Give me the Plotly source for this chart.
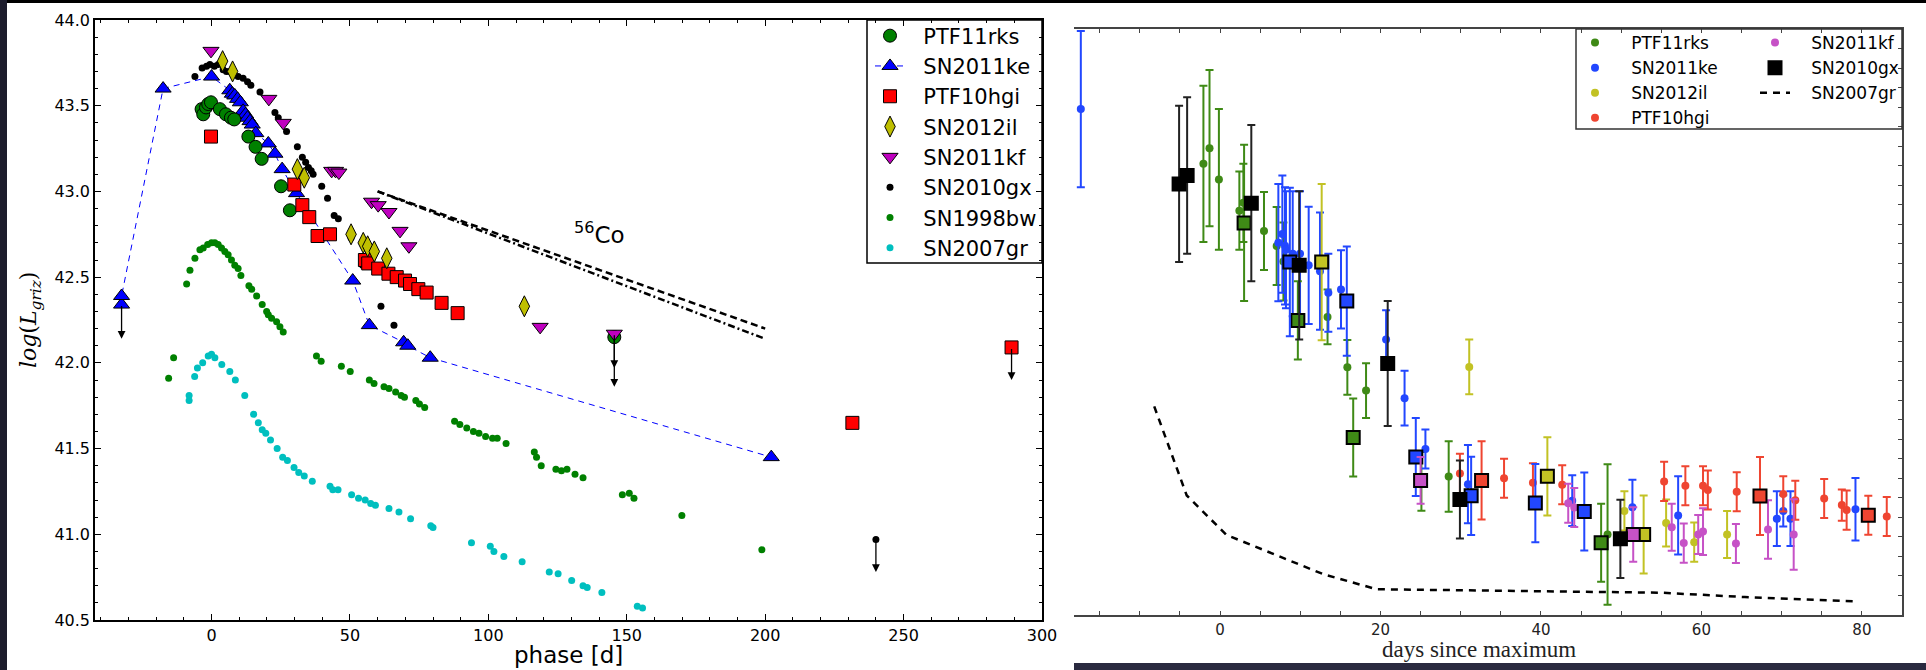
import plotly.graph_objects as go

W, H = 1926, 670

# ---------------- LEFT PANEL DATA (phase [d], log L) ----------------
ptf11rks_x = [-3.6, -3.0, -2.0, -1.2, -0.2, 3.0, 5.2, 7.0, 8.2, 13.3, 15.9, 18.1, 25.1, 28.3, 145.5]
ptf11rks_y = [43.48, 43.45, 43.49, 43.51, 43.52, 43.48, 43.45, 43.43, 43.42, 43.32, 43.26, 43.19, 43.03, 42.89, 42.15]

sn2011ke_x = [-32.5, -32.5, -17.5, 0.0, 6.6, 7.5, 8.4, 9.4, 10.4, 11.4, 12.3, 13.0, 13.9, 14.7, 16.0,
              20.5, 22.9, 25.5, 30.7, 51.0, 57.0, 69.4, 70.9, 79.0, 202.2]
sn2011ke_y = [42.34, 42.39, 43.60, 43.67, 43.59, 43.57, 43.56, 43.54, 43.52, 43.47, 43.45, 43.43, 43.41, 43.39, 43.34,
              43.28, 43.22, 43.13, 42.99, 42.48, 42.22, 42.12, 42.10, 42.03, 41.45]

ptf10hgi_x = [-0.2, 29.9, 32.8, 35.3, 38.3, 42.8, 55.4, 56.6, 60.2, 63.9, 66.9, 69.9, 71.7, 74.7, 77.7, 83.1, 88.9, 231.5, 289.0]
ptf10hgi_y = [43.32, 43.04, 42.92, 42.85, 42.74, 42.75, 42.60, 42.58, 42.55, 42.52, 42.50, 42.48, 42.46, 42.43, 42.41, 42.35, 42.29, 41.65, 42.09]

sn2012il_x = [4.0, 7.6, 31.0, 33.5, 50.4, 54.8, 56.4, 58.8, 63.3, 113.0]
sn2012il_y = [43.76, 43.70, 43.13, 43.08, 42.75, 42.70, 42.68, 42.65, 42.61, 42.33]

sn2011kf_x = [-0.2, 20.7, 25.9, 43.4, 44.8, 46.0, 57.8, 60.2, 64.1, 68.1, 71.3, 118.7, 145.5]
sn2011kf_y = [43.82, 43.54, 43.40, 43.12, 43.12, 43.11, 42.94, 42.92, 42.88, 42.77, 42.68, 42.21, 42.17]

sn2010gx_x = [-6.0, -3.4, -1.8, -0.6, 1.0, 2.4, 4.2, 5.4, 6.6, 7.8, 9.6, 11.4, 13.0, 14.2, 17.5, 22.9, 24.1, 27.1,
              31.0, 32.8, 34.0, 35.0, 36.0, 36.7, 39.8, 41.9, 44.3, 45.8, 50.4, 54.6, 61.2, 65.9, 240.0]
sn2010gx_y = [43.67, 43.72, 43.73, 43.74, 43.73, 43.74, 43.71, 43.70, 43.70, 43.69, 43.67, 43.66, 43.64, 43.62, 43.58, 43.46, 43.43, 43.35,
              43.26, 43.20, 43.17, 43.14, 43.12, 43.10, 43.03, 42.96, 42.86, 42.84, 42.73, 42.57, 42.33, 42.22, 40.97]

sn1998bw_x = [-15.5, -13.7, -9.0, -7.8, -6.0, -4.2, -3.0, -1.4, 0.0, 1.2, 2.4, 3.6, 4.8, 6.0, 7.2, 8.4, 9.6, 10.6,
              13.5, 14.5, 16.3, 18.3, 19.9, 20.5, 21.7, 23.5, 24.7, 25.9,
              37.9, 39.6, 46.9, 50.1, 57.0, 58.7, 62.3, 64.1, 66.5, 68.5, 69.7, 73.8, 75.1, 77.0,
              87.8, 89.7, 92.2, 94.6, 96.6, 99.0, 101.5, 103.2, 106.4, 116.6, 117.4, 119.1, 124.4, 126.4, 128.4,
              131.3, 134.2, 148.4, 150.9, 152.6, 169.9, 198.8]
sn1998bw_y = [41.91, 42.03, 42.46, 42.54, 42.61, 42.66, 42.67, 42.69, 42.70, 42.70, 42.69, 42.67, 42.65, 42.63, 42.60, 42.57, 42.55, 42.51,
              42.45, 42.43, 42.39, 42.34, 42.30, 42.28, 42.26, 42.24, 42.21, 42.18,
              42.04, 42.01, 41.98, 41.95, 41.90, 41.88, 41.86, 41.85, 41.83, 41.81, 41.80, 41.78, 41.76, 41.74,
              41.66, 41.64, 41.62, 41.60, 41.59, 41.57, 41.56, 41.56, 41.53, 41.48, 41.45, 41.40, 41.38, 41.37, 41.38,
              41.35, 41.33, 41.23, 41.24, 41.21, 41.11, 40.91]

sn2007gr_x = [-8.1, -8.1, -6.1, -5.1, -3.2, -1.2, 0.0, 1.2, 3.7, 6.6, 8.6, 12.0, 15.2, 16.9, 18.3, 19.6, 21.3, 23.7,
              25.7, 27.4, 29.8, 31.5, 33.5, 36.4, 42.8, 43.8, 45.7, 50.6, 53.1, 55.5, 57.5, 59.2, 64.1, 67.7,
              71.9, 79.2, 80.0, 93.9, 100.7, 102.0, 105.6, 112.2, 122.0, 125.2, 130.1, 134.2, 135.7, 141.0, 153.8, 155.7]
sn2007gr_y = [41.78, 41.81, 41.92, 41.97, 42.00, 42.04, 42.05, 42.03, 41.99, 41.95, 41.90, 41.81, 41.70, 41.65, 41.61, 41.59, 41.55, 41.50,
              41.45, 41.43, 41.39, 41.36, 41.34, 41.31, 41.28, 41.26, 41.26, 41.23, 41.21, 41.20, 41.18, 41.17, 41.15, 41.13,
              41.09, 41.05, 41.04, 40.95, 40.93, 40.90, 40.87, 40.84, 40.78, 40.77, 40.73, 40.70, 40.69, 40.66, 40.58, 40.57]

# upper limits: x, start (marker) and arrow tip
limit_x = [-32.5, 145.5, 145.5, 240.0, 289.0]
limit_from = [42.34, 42.17, 42.15, 40.97, 42.09]
limit_to = [42.14, 41.97, 41.86, 40.78, 41.90]

# 56Co decay slopes
co_x = [60.0, 200.0]
co_dash_y = [43.00, 42.20]
co_dashdot_y = [43.00, 42.14]

# ---------------- RIGHT PANEL DATA (days since maximum) ----------------
r11rks_x = [-2.07, -1.31, -0.14, 2.41, 2.91, 5.48, 7.06, 7.9, 13.4, 15.87, 18.2, 25.1, 28.5, 48.3]
r11rks_y = [2.31, 2.39, 2.23, 2.07, 2.11, 1.966, 1.889, 1.81, 1.526, 1.268, 1.149, 0.684, 0.709, 0.412]
r11rks_e = [0.40, 0.40, 0.36, 0.20, 0.20, 0.20, 0.20, 0.20, 0.14, 0.14, 0.14, 0.15, 0.18, 0.36]
r11rks_bx = [3.0, 9.7, 16.6, 47.5]
r11rks_by = [2.007, 1.508, 0.909, 0.37]
r11rks_be = [0.40, 0.20, 0.20, 0.20]

r11ke_x = [-17.35, 7.27, 7.77, 8.1, 8.22, 9.06, 9.97, 11.05, 12.46, 13.5, 15.08, 20.7, 23.0, 25.6, 30.9,
           43.9, 51.4, 57.1, 69.4, 70.2, 71.1, 79.2]
r11ke_y = [2.59, 1.906, 1.95, 1.89, 1.87, 1.85, 1.85, 1.79, 1.76, 1.65, 1.667, 1.41, 1.11, 0.85, 0.67,
           0.585, 0.552, 0.51, 0.493, 0.533, 0.493, 0.541]
r11ke_e = [0.40, 0.30, 0.30, 0.30, 0.30, 0.32, 0.32, 0.30, 0.30, 0.20, 0.20, 0.15, 0.14, 0.10, 0.20,
           0.13, 0.14, 0.20, 0.14, 0.08, 0.14, 0.16]
r11ke_bx = [8.7, 15.8, 24.4, 31.3, 39.3, 45.4]
r11ke_by = [1.807, 1.607, 0.809, 0.610, 0.573, 0.530]
r11ke_be = [0.38, 0.28, 0.20, 0.20, 0.20, 0.20]

r12il_x = [31.06, 50.4, 55.6, 59.1, 63.2]
r12il_y = [1.27, 0.533, 0.471, 0.373, 0.412]
r12il_e = [0.14, 0.10, 0.12, 0.10, 0.12]
r12il_bx = [12.67, 40.8, 52.8]
r12il_by = [1.807, 0.71, 0.412]
r12il_be = [0.40, 0.20, 0.20]

r10hgi_x = [29.9, 35.4, 39.0, 42.65, 55.35, 58.0, 60.2, 60.8, 64.4, 70.2, 71.7, 75.3, 77.5, 78.1, 83.1]
r10hgi_y = [0.725, 0.70, 0.677, 0.667, 0.684, 0.662, 0.662, 0.64, 0.631, 0.62, 0.587, 0.596, 0.563, 0.537, 0.504]
r10hgi_e = [0.10, 0.10, 0.10, 0.10, 0.10, 0.10, 0.10, 0.10, 0.10, 0.09, 0.10, 0.10, 0.08, 0.10, 0.10]
r10hgi_bx = [32.6, 67.3, 80.8]
r10hgi_by = [0.689, 0.609, 0.511]
r10hgi_be = [0.20, 0.20, 0.10]

r11kf_x = [43.4, 44.15, 56.3, 57.8, 59.6, 60.2, 64.3, 68.3, 71.5]
r11kf_y = [0.572, 0.55, 0.449, 0.368, 0.412, 0.427, 0.366, 0.438, 0.412]
r11kf_e = [0.10, 0.10, 0.12, 0.10, 0.10, 0.12, 0.10, 0.15, 0.18]
r11kf_bx = [25.0, 51.5]
r11kf_by = [0.689, 0.412]
r11kf_be = [0.12, 0.14]

r10gx_bx = [-5.1, -4.1, 3.9, 9.87, 20.9, 29.9, 49.9]
r10gx_by = [2.207, 2.25, 2.108, 1.79, 1.288, 0.591, 0.39]
r10gx_be = [0.40, 0.40, 0.40, 0.38, 0.32, 0.20, 0.20]

r07gr_x = [-8.2, -4.15, 0.8, 12.8, 19.5, 55.0, 65.4, 79.2]
r07gr_y = [1.068, 0.612, 0.41, 0.21, 0.132, 0.114, 0.092, 0.07]

# ---------------- FIGURE ----------------
fig = go.Figure()
FONT = "DejaVu Sans"
PADL = "\u00a0\u00a0"        # extra gap between legend symbol and text (left legend)
PADR = "\u00a0\u00a0\u00a0"  # same for right legends


def mk(color, symbol, size, edge=True):
    d = dict(color=color, symbol=symbol, size=size)
    d["line"] = dict(color="black", width=1) if edge else dict(width=0)
    return d


# left panel traces (legend 1)
fig.add_trace(go.Scatter(x=sn1998bw_x, y=sn1998bw_y, mode="markers", name=PADL + "SN1998bw",
                         marker=mk("#008000", "circle", 7, False), xaxis="x", yaxis="y", legendrank=7))
fig.add_trace(go.Scatter(x=sn2007gr_x, y=sn2007gr_y, mode="markers", name=PADL + "SN2007gr",
                         marker=mk("#00bfbf", "circle", 7, False), xaxis="x", yaxis="y", legendrank=8))
fig.add_trace(go.Scatter(x=co_x, y=co_dash_y, mode="lines", showlegend=False,
                         line=dict(color="black", width=2.5, dash="7px,4px"), xaxis="x", yaxis="y"))
fig.add_trace(go.Scatter(x=co_x, y=co_dashdot_y, mode="lines", showlegend=False,
                         line=dict(color="black", width=2.5, dash="7px,3px,2px,3px"), xaxis="x", yaxis="y"))
fig.add_trace(go.Scatter(x=sn2010gx_x, y=sn2010gx_y, mode="markers", name=PADL + "SN2010gx",
                         marker=mk("black", "circle", 7, False), xaxis="x", yaxis="y", legendrank=6))
fig.add_trace(go.Scatter(x=sn2011ke_x, y=sn2011ke_y, mode="lines+markers", name=PADL + "SN2011ke",
                         line=dict(color="#0000ff", width=1, dash="6px,5px"),
                         marker=mk("#0000ff", "triangle-up", 14), xaxis="x", yaxis="y", legendrank=2))
fig.add_trace(go.Scatter(x=ptf11rks_x, y=ptf11rks_y, mode="markers", name=PADL + "PTF11rks",
                         marker=mk("#008000", "circle", 13), xaxis="x", yaxis="y", legendrank=1))
fig.add_trace(go.Scatter(x=ptf10hgi_x, y=ptf10hgi_y, mode="markers", name=PADL + "PTF10hgi",
                         marker=mk("#ff0000", "square", 13), xaxis="x", yaxis="y", legendrank=3))
fig.add_trace(go.Scatter(x=sn2012il_x, y=sn2012il_y, mode="markers", name=PADL + "SN2012il",
                         marker=mk("#bfbf00", "diamond-tall", 15), xaxis="x", yaxis="y", legendrank=4))
fig.add_trace(go.Scatter(x=sn2011kf_x, y=sn2011kf_y, mode="markers", name=PADL + "SN2011kf",
                         marker=mk("#bf00bf", "triangle-down", 14), xaxis="x", yaxis="y", legendrank=5))

# right panel traces
G, B, Y, R, M = "#3f8a16", "#2247ff", "#c2c224", "#ef4531", "#c652c6"


def err(arr, color):
    return dict(type="data", array=arr, visible=True, color=color, thickness=2, width=4)


fig.add_trace(go.Scatter(x=r11rks_x, y=r11rks_y, mode="markers", name=PADR + "PTF11rks", legend="legend2",
                         marker=dict(color=G, size=8), error_y=err(r11rks_e, G), xaxis="x2", yaxis="y2",
                         legendrank=1))
fig.add_trace(go.Scatter(x=r11ke_x, y=r11ke_y, mode="markers", name=PADR + "SN2011ke", legend="legend2",
                         marker=dict(color=B, size=8), error_y=err(r11ke_e, B), xaxis="x2", yaxis="y2",
                         legendrank=2))
fig.add_trace(go.Scatter(x=r12il_x, y=r12il_y, mode="markers", name=PADR + "SN2012il", legend="legend2",
                         marker=dict(color=Y, size=8), error_y=err(r12il_e, Y), xaxis="x2", yaxis="y2",
                         legendrank=3))
fig.add_trace(go.Scatter(x=r10hgi_x, y=r10hgi_y, mode="markers", name=PADR + "PTF10hgi", legend="legend2",
                         marker=dict(color=R, size=8), error_y=err(r10hgi_e, R), xaxis="x2", yaxis="y2",
                         legendrank=4))
fig.add_trace(go.Scatter(x=r11kf_x, y=r11kf_y, mode="markers", name=PADR + "SN2011kf", legend="legend3",
                         marker=dict(color=M, size=8), error_y=err(r11kf_e, M), xaxis="x2", yaxis="y2",
                         legendrank=1))
fig.add_trace(go.Scatter(x=r07gr_x, y=r07gr_y, mode="lines", name=PADR + "SN2007gr", legend="legend3",
                         line=dict(color="black", width=2.5, dash="7px,6px"), xaxis="x2", yaxis="y2",
                         legendrank=3))

sq = lambda c: dict(color=c, symbol="square", size=13, line=dict(color="black", width=2))
for bx, by, be, c in [(r11rks_bx, r11rks_by, r11rks_be, G), (r11ke_bx, r11ke_by, r11ke_be, B),
                      (r12il_bx, r12il_by, r12il_be, Y), (r10hgi_bx, r10hgi_by, r10hgi_be, R),
                      (r11kf_bx, r11kf_by, r11kf_be, M)]:
    fig.add_trace(go.Scatter(x=bx, y=by, mode="markers", showlegend=False, marker=sq(c),
                             error_y=err(be, c), xaxis="x2", yaxis="y2"))
fig.add_trace(go.Scatter(x=r10gx_bx, y=r10gx_by, mode="markers", name=PADR + "SN2010gx", legend="legend3",
                         marker=sq("black"), error_y=err(r10gx_be, "#222222"), xaxis="x2", yaxis="y2",
                         legendrank=2))

# upper-limit arrows
ann = []
for lx, l0, l1 in zip(limit_x, limit_from, limit_to):
    ann.append(dict(x=lx, y=l1, ax=lx, ay=l0, xref="x", yref="y", axref="x", ayref="y",
                    showarrow=True, arrowhead=2, arrowsize=1.2, arrowwidth=1.3, arrowcolor="black",
                    text="", standoff=0, startstandoff=0))

ann.append(dict(x=140.0, y=42.757, xref="x", yref="y", showarrow=False, xanchor="center", yanchor="middle",
                text="<sup>56</sup>Co", font=dict(family=FONT, size=23, color="black")))
ann.append(dict(x=568 / W, y=1 - 655 / H, xref="paper", yref="paper", showarrow=False,
                xanchor="center", yanchor="middle",
                text="phase [d]", font=dict(family=FONT, size=23, color="black")))
ann.append(dict(x=30 / W, y=1 - 320 / H, xref="paper", yref="paper", showarrow=False, textangle=-90,
                xanchor="center", yanchor="middle",
                text="<i>log</i>(<i>L</i><sub><i>griz</i></sub>)",
                font=dict(family="DejaVu Serif", size=22, color="black")))
ann.append(dict(x=1479 / W, y=1 - 649 / H, xref="paper", yref="paper", showarrow=False,
                xanchor="center", yanchor="middle",
                text="days since maximum", font=dict(family="Liberation Serif", size=23, color="#222222")))

shapes = [
    dict(type="rect", xref="paper", yref="paper", x0=0, x1=1, y0=1 - 3 / H, y1=1,
         fillcolor="black", line=dict(width=0), layer="above"),
    dict(type="rect", xref="paper", yref="paper", x0=0, x1=7 / W, y0=0, y1=1,
         fillcolor="#1c1c2c", line=dict(width=0), layer="above"),
    dict(type="rect", xref="paper", yref="paper", x0=1074 / W, x1=1, y0=0, y1=7 / H,
         fillcolor="#2a2a40", line=dict(width=0), layer="above"),
    # legend frames
    dict(type="rect", xref="paper", yref="paper", x0=867 / W, x1=1042 / W, y0=1 - 263 / H, y1=1 - 20 / H,
         fillcolor="white", line=dict(color="black", width=1.5), layer="below"),
    dict(type="rect", xref="paper", yref="paper", x0=1576 / W, x1=1902 / W, y0=1 - 129 / H, y1=1 - 29 / H,
         fillcolor="rgba(0,0,0,0)", line=dict(color="#333333", width=1.5), layer="above"),
]

tickfont = dict(family=FONT, size=16, color="black")
fig.update_layout(
    width=W, height=H, margin=dict(l=0, r=0, t=0, b=0, autoexpand=False),
    paper_bgcolor="white", plot_bgcolor="white",
    xaxis=dict(domain=[95 / W, 1042 / W], range=[-42.1, 300], anchor="y", automargin=False,
               tick0=0, dtick=50, ticks="inside", ticklen=6, tickcolor="black", tickwidth=1,
               minor=dict(ticks="inside", dtick=10, ticklen=3, tickcolor="black"),
               showline=True, linecolor="black", linewidth=1.5, mirror="allticks",
               showgrid=False, zeroline=False, tickfont=tickfont),
    yaxis=dict(domain=[1 - 620 / H, 1 - 20 / H], range=[40.5, 44.0], anchor="x", automargin=False,
               tick0=40.5, dtick=0.5, tickformat=".1f", ticks="inside", ticklen=6, tickcolor="black",
               minor=dict(ticks="inside", dtick=0.1, ticklen=3, tickcolor="black"),
               showline=True, linecolor="black", linewidth=1.5, mirror="allticks",
               showgrid=False, zeroline=False, tickfont=tickfont),
    xaxis2=dict(domain=[1074 / W, 1902 / W], range=[-18.2, 85], anchor="y2", automargin=False,
                tick0=0, dtick=20, ticks="inside", ticklen=4, tickcolor="#444444",
                minor=dict(ticks="inside", dtick=5, ticklen=4, tickcolor="#444444"),
                showline=True, linecolor="#444444", linewidth=1.5, mirror="allticks",
                showgrid=False, zeroline=False, tickfont=dict(family=FONT, size=15, color="#222222")),
    yaxis2=dict(domain=[1 - 615 / H, 1 - 29 / H], range=[0, 3.0], anchor="x2", side="right", automargin=False,
                dtick=0.1, ticks="inside", ticklen=4, tickcolor="#444444", showticklabels=False,
                showline=True, linecolor="#444444", linewidth=1.5,
                showgrid=False, zeroline=False),
    legend=dict(x=870 / W, xanchor="left", y=1 - 15.5 / H, yanchor="top",
                borderwidth=0, bgcolor="rgba(0,0,0,0)",
                font=dict(family=FONT, size=21, color="black"), traceorder="normal"),
    legend2=dict(x=1575 / W, xanchor="left", y=1 - 25 / H, yanchor="top", bgcolor="rgba(0,0,0,0)",
                 font=dict(family=FONT, size=17, color="black"), traceorder="normal"),
    legend3=dict(x=1755 / W, xanchor="left", y=1 - 25 / H, yanchor="top", bgcolor="rgba(0,0,0,0)",
                 font=dict(family=FONT, size=17, color="black"), traceorder="normal"),
    annotations=ann, shapes=shapes, showlegend=True,
)

fig.write_html(
    "out.html",
    config={"displayModeBar": False},
    post_script="document.body.style.margin='0';document.body.style.padding='0';"
                "document.documentElement.style.overflow='hidden';window.scrollTo(0,0);",
)
